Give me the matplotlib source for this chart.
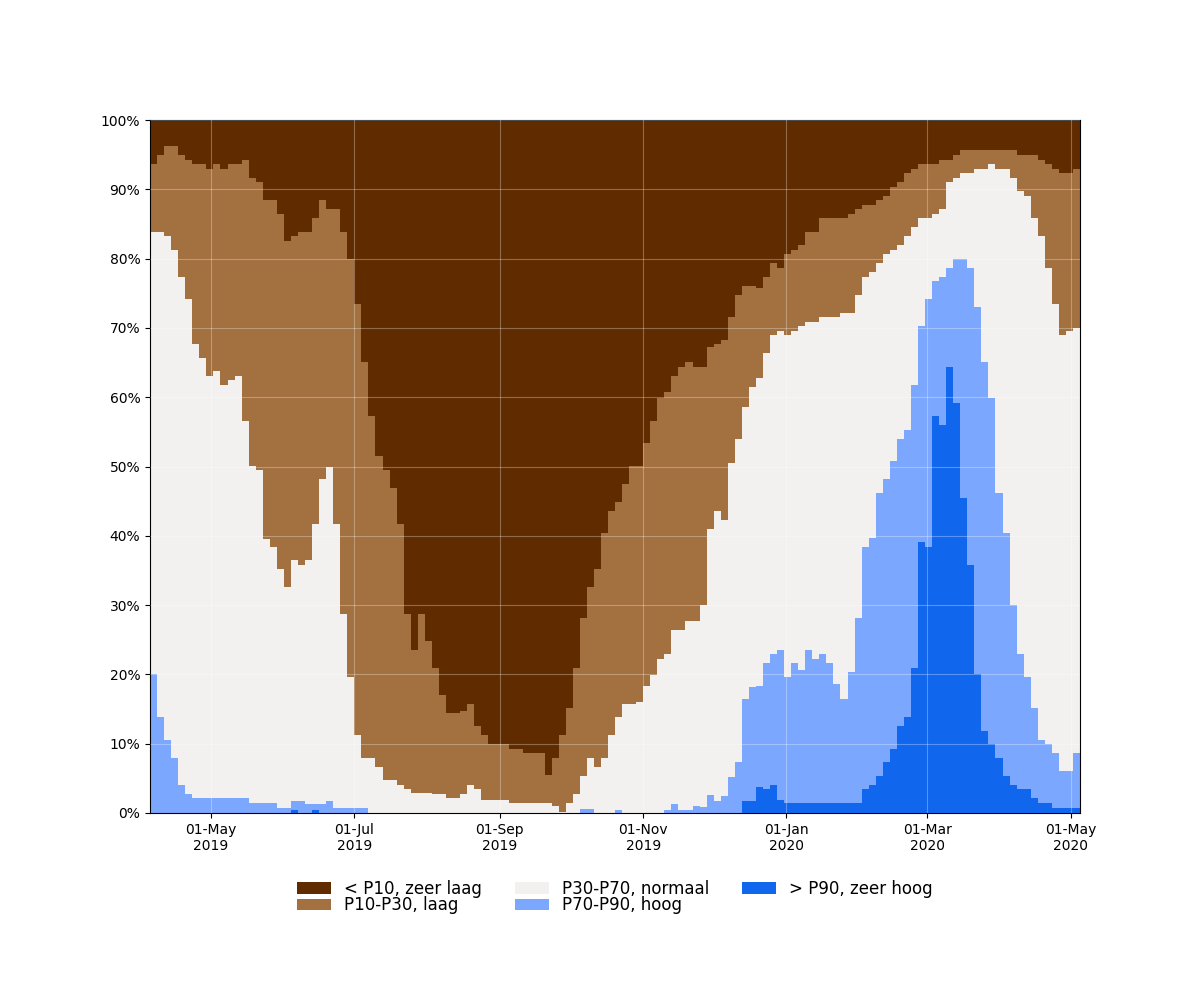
import matplotlib
matplotlib.use("Agg")
import matplotlib.dates as mdates
import matplotlib.pyplot as plt
import numpy as np
from matplotlib.ticker import PercentFormatter

START = np.datetime64("2019-04-05")
STEP_DAYS = 3

# share of stations (%) above each percentile, one value per 3-day step
above_p90 = [
    0, 0, 0, 0, 0, 0, 0, 0, 0, 0, 0, 0, 0, 0, 0, 0, 0, 0, 0, 0, 0.4, 0,
    0, 0.4, 0, 0, 0, 0, 0, 0, 0, 0, 0, 0, 0, 0, 0, 0, 0, 0, 0, 0, 0, 0,
    0, 0, 0, 0, 0, 0, 0, 0, 0, 0, 0, 0, 0, 0, 0, 0, 0, 0, 0, 0, 0, 0,
    0, 0, 0, 0, 0, 0, 0, 0, 0, 0, 0, 0, 0, 0, 0, 0, 0, 0, 1.75, 1.75, 3.7, 3.4,
    4.0, 1.9, 1.4, 1.4, 1.4, 1.4, 1.4, 1.4, 1.4, 1.4, 1.4, 1.4, 1.4, 3.4, 4.0, 5.3, 7.3, 9.2, 12.5, 13.8, 20.9, 39.1,
    38.4, 57.3, 56.0, 64.4, 59.2, 45.5, 35.8, 20.0, 11.8, 9.9, 7.9, 5.3, 4.0, 3.4, 3.4, 2.1, 1.4, 1.4, 0.65, 0.65, 0.65, 0.65,
]
above_p70 = [
    20.0, 13.8, 10.5, 7.9, 4.0, 2.7, 2.1, 2.1, 2.1, 2.1, 2.1, 2.1, 2.1, 2.1, 1.4, 1.4, 1.4, 1.4, 0.65, 0.65, 1.75, 1.75,
    1.3, 1.3, 1.3, 1.75, 0.65, 0.65, 0.65, 0.65, 0.65, 0, 0, 0, 0, 0, 0, 0, 0, 0, 0, 0, 0, 0,
    0, 0, 0, 0, 0, 0, 0, 0, 0, 0, 0, 0, 0, 0, 0, 0, 0, 0.6, 0.6, 0, 0, 0,
    0.45, 0, 0, 0, 0, 0, 0, 0.45, 1.3, 0.45, 0.45, 1.0, 0.8, 2.6, 1.75, 2.4, 5.2, 7.3, 16.4, 18.2, 18.3, 21.6,
    22.9, 23.5, 19.6, 21.6, 20.6, 23.5, 22.2, 22.9, 21.6, 18.6, 16.4, 20.3, 28.1, 38.4, 39.7, 46.2, 48.2, 50.8, 54.0, 55.3, 61.8, 70.3,
    74.2, 76.8, 77.4, 78.7, 80.0, 80.0, 78.7, 73.0, 65.1, 59.9, 46.2, 40.4, 30.0, 22.9, 19.6, 15.1, 10.5, 9.9, 8.6, 6.0, 6.0, 8.6,
]
above_p30 = [
    83.9, 83.9, 83.2, 81.3, 77.4, 74.2, 67.7, 65.7, 63.1, 63.8, 61.8, 62.5, 63.1, 56.6, 50.1, 49.5, 39.5, 38.4, 35.2, 32.6, 36.5, 35.8,
    36.5, 41.7, 48.2, 50.0, 41.7, 28.7, 19.6, 11.2, 7.9, 7.9, 6.6, 4.7, 4.7, 4.0, 3.4, 2.9, 2.9, 2.9, 2.7, 2.7, 2.1, 2.1,
    2.7, 4.0, 3.4, 1.9, 1.9, 1.9, 1.9, 1.4, 1.4, 1.4, 1.4, 1.4, 1.4, 1.0, 0.1, 1.4, 2.7, 5.3, 7.9, 6.6, 7.9, 11.2,
    13.8, 15.7, 15.7, 16.0, 18.3, 19.9, 22.2, 22.9, 26.4, 26.4, 27.7, 27.7, 30.0, 41.0, 43.6, 42.3, 50.5, 54.0, 58.6, 61.5, 62.7, 66.4,
    69.0, 69.6, 69.0, 69.6, 70.3, 70.9, 70.9, 71.6, 71.6, 71.6, 72.2, 72.2, 74.8, 77.4, 78.1, 79.4, 80.6, 81.3, 82.0, 83.2, 84.5, 85.8,
    85.8, 86.5, 87.1, 91.0, 91.7, 92.3, 92.3, 93.0, 93.0, 93.6, 93.0, 93.0, 91.7, 89.7, 89.1, 85.8, 83.2, 78.7, 73.5, 69.0, 69.6, 70.0,
]
above_p10 = [
    93.6, 94.9, 96.2, 96.2, 94.9, 94.3, 93.6, 93.6, 93.0, 93.6, 93.0, 93.6, 93.6, 94.3, 91.7, 91.0, 88.4, 88.4, 86.5, 82.5, 83.2, 83.9,
    83.9, 85.8, 88.4, 87.1, 87.1, 83.9, 80.0, 73.5, 65.1, 57.3, 51.5, 49.5, 46.9, 41.7, 28.7, 23.5, 28.7, 24.8, 20.9, 17.0, 14.4, 14.4,
    14.7, 15.7, 12.5, 11.2, 9.9, 9.9, 9.9, 9.2, 9.2, 8.6, 8.6, 8.6, 5.5, 8.0, 11.2, 15.1, 20.9, 28.1, 32.6, 35.2, 40.4, 43.6,
    44.9, 47.5, 50.1, 50.1, 53.4, 56.6, 59.9, 60.8, 63.1, 64.4, 65.1, 64.4, 64.4, 67.3, 67.7, 68.3, 71.6, 74.8, 76.1, 76.1, 75.8, 77.4,
    79.4, 78.7, 80.6, 81.3, 82.0, 83.9, 83.9, 85.8, 85.8, 85.8, 85.8, 86.5, 87.1, 87.8, 87.8, 88.4, 89.1, 90.4, 91.0, 92.3, 93.0, 93.6,
    93.6, 93.6, 94.3, 94.3, 94.9, 95.7, 95.7, 95.7, 95.7, 95.7, 95.7, 95.7, 95.7, 94.9, 94.9, 94.9, 94.3, 93.6, 93.0, 92.3, 92.3, 93.0,
]

labels = ["< P10, zeer laag", "P10-P30, laag", "P30-P70, normaal", "P70-P90, hoog", "> P90, zeer hoog"]
colors = ["#612b00", "#a3703f", "#f2f1f0", "#7ba7ff", "#1166ee"]

n = len(above_p10)
# cumulative tops of each class, "zeer laag" (always up to 100%) first
tops = [np.full(n, 100.0), np.array(above_p10), np.array(above_p30),
        np.array(above_p70), np.array(above_p90)]
edges = mdates.date2num(START + np.arange(n + 1) * np.timedelta64(STEP_DAYS, "D"))

fig, ax = plt.subplots(figsize=(12, 10), dpi=100)
fig.subplots_adjust(left=0.125, right=0.9, top=0.88, bottom=0.187)

# paint each class from 0 up to its cumulative top, lower classes over higher ones
handles = []
for top, label, color in zip(tops, labels, colors):
    h = ax.stairs(top, edges, baseline=0, fill=True, color=color, linewidth=0, label=label)
    handles.append(h)

ax.set_xlim(edges[0], edges[-1])
ax.set_ylim(0, 100)
ax.xaxis_date()
ax.yaxis.set_major_locator(plt.MultipleLocator(10))
ax.yaxis.set_major_formatter(PercentFormatter(decimals=0))
ax.xaxis.set_major_locator(mdates.MonthLocator(bymonth=[1, 3, 5, 7, 9, 11]))
ax.xaxis.set_major_formatter(mdates.DateFormatter("%d-%b\n%Y"))
for lbl in ax.get_xticklabels():
    lbl.set_horizontalalignment("center")

ax.set_axisbelow(False)
ax.grid(True, color="white", alpha=0.3, linewidth=0.8)

ax.legend(handles, labels, loc="upper center", bbox_to_anchor=(0.5, -0.075),
          ncol=3, frameon=False, fontsize=12, labelspacing=-0.1)

fig.savefig("out.png", dpi=100)
